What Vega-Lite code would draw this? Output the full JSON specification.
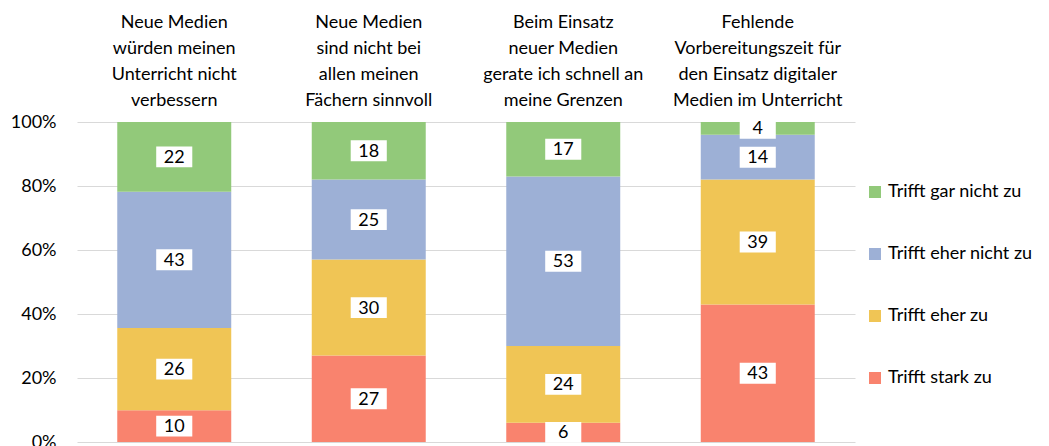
{
  "$schema": "https://vega.github.io/schema/vega-lite/v6.json",
  "autosize": "none",
  "width": 778,
  "height": 320,
  "padding": {"left": 77, "top": 122, "right": 194, "bottom": 4},
  "background": "white",
  "config": {"font": "Lato", "view": {"stroke": null}},
  "data": {"values": [
    {"item": "Neue Medien|würden meinen|Unterricht nicht|verbessern", "answer": "Trifft stark zu", "code": 1, "pct": 10},
    {"item": "Neue Medien|würden meinen|Unterricht nicht|verbessern", "answer": "Trifft eher zu", "code": 2, "pct": 26},
    {"item": "Neue Medien|würden meinen|Unterricht nicht|verbessern", "answer": "Trifft eher nicht zu", "code": 3, "pct": 43},
    {"item": "Neue Medien|würden meinen|Unterricht nicht|verbessern", "answer": "Trifft gar nicht zu", "code": 4, "pct": 22},
    {"item": "Neue Medien|sind nicht bei|allen meinen|Fächern sinnvoll", "answer": "Trifft stark zu", "code": 1, "pct": 27},
    {"item": "Neue Medien|sind nicht bei|allen meinen|Fächern sinnvoll", "answer": "Trifft eher zu", "code": 2, "pct": 30},
    {"item": "Neue Medien|sind nicht bei|allen meinen|Fächern sinnvoll", "answer": "Trifft eher nicht zu", "code": 3, "pct": 25},
    {"item": "Neue Medien|sind nicht bei|allen meinen|Fächern sinnvoll", "answer": "Trifft gar nicht zu", "code": 4, "pct": 18},
    {"item": "Beim Einsatz|neuer Medien|gerate ich schnell an|meine Grenzen", "answer": "Trifft stark zu", "code": 1, "pct": 6},
    {"item": "Beim Einsatz|neuer Medien|gerate ich schnell an|meine Grenzen", "answer": "Trifft eher zu", "code": 2, "pct": 24},
    {"item": "Beim Einsatz|neuer Medien|gerate ich schnell an|meine Grenzen", "answer": "Trifft eher nicht zu", "code": 3, "pct": 53},
    {"item": "Beim Einsatz|neuer Medien|gerate ich schnell an|meine Grenzen", "answer": "Trifft gar nicht zu", "code": 4, "pct": 17},
    {"item": "Fehlende|Vorbereitungszeit für|den Einsatz digitaler|Medien im Unterricht", "answer": "Trifft stark zu", "code": 1, "pct": 43},
    {"item": "Fehlende|Vorbereitungszeit für|den Einsatz digitaler|Medien im Unterricht", "answer": "Trifft eher zu", "code": 2, "pct": 39},
    {"item": "Fehlende|Vorbereitungszeit für|den Einsatz digitaler|Medien im Unterricht", "answer": "Trifft eher nicht zu", "code": 3, "pct": 14},
    {"item": "Fehlende|Vorbereitungszeit für|den Einsatz digitaler|Medien im Unterricht", "answer": "Trifft gar nicht zu", "code": 4, "pct": 4}
  ]},
  "transform": [
    {"stack": "pct", "groupby": ["item"], "sort": [{"field": "code", "order": "ascending"}], "offset": "normalize", "as": ["y0", "y1"]},
    {"calculate": "(datum.y0 + datum.y1) / 2", "as": "ymid"}
  ],
  "encoding": {
    "x": {
      "field": "item", "type": "nominal", "sort": null,
      "scale": {"paddingInner": 0.414, "paddingOuter": 0.207},
      "axis": {
        "orient": "top", "title": null, "domain": false, "ticks": false,
        "labelAngle": 0, "labelFontSize": 18, "labelColor": "#000000",
        "labelLineHeight": 26, "labelPadding": 109, "labelBaseline": "top",
        "labelOverlap": false, "labelBound": false,
        "labelExpr": "split(datum.value, '|')"
      }
    }
  },
  "layer": [
    {
      "mark": {"type": "bar"},
      "encoding": {
        "y": {
          "field": "y1", "type": "quantitative",
          "scale": {"domain": [0, 1]},
          "axis": {
            "title": null, "format": "%", "values": [0, 0.2, 0.4, 0.6, 0.8, 1],
            "domain": false, "ticks": false, "labelFontSize": 18, "labelColor": "#000000",
            "labelPadding": 21, "labelOverlap": false, "gridColor": "#d9d9d9", "gridWidth": 1
          }
        },
        "y2": {"field": "y0"},
        "color": {
          "field": "answer", "type": "nominal",
          "scale": {
            "domain": ["Trifft gar nicht zu", "Trifft eher nicht zu", "Trifft eher zu", "Trifft stark zu"],
            "range": ["#92c97a", "#9db0d6", "#f0c555", "#f9836e"]
          },
          "legend": {
            "title": null, "orient": "none", "legendX": 789, "legendY": 61,
            "symbolType": "square", "symbolSize": 144, "symbolStrokeWidth": 0,
            "labelFontSize": 18, "labelColor": "#000000", "labelOffset": 4,
            "rowPadding": 44, "padding": 0
          }
        }
      }
    },
    {
      "mark": {"type": "point", "filled": true, "color": "white", "opacity": 1, "shape": "M-1.64,-0.95H1.64V0.95H-1.64Z", "size": 484},
      "encoding": {
        "y": {"field": "ymid", "type": "quantitative"}
      }
    },
    {
      "mark": {"type": "text", "fontSize": 18, "color": "#000000", "baseline": "middle", "dy": 1},
      "encoding": {
        "y": {"field": "ymid", "type": "quantitative"},
        "text": {"field": "pct", "type": "quantitative"}
      }
    }
  ]
}
